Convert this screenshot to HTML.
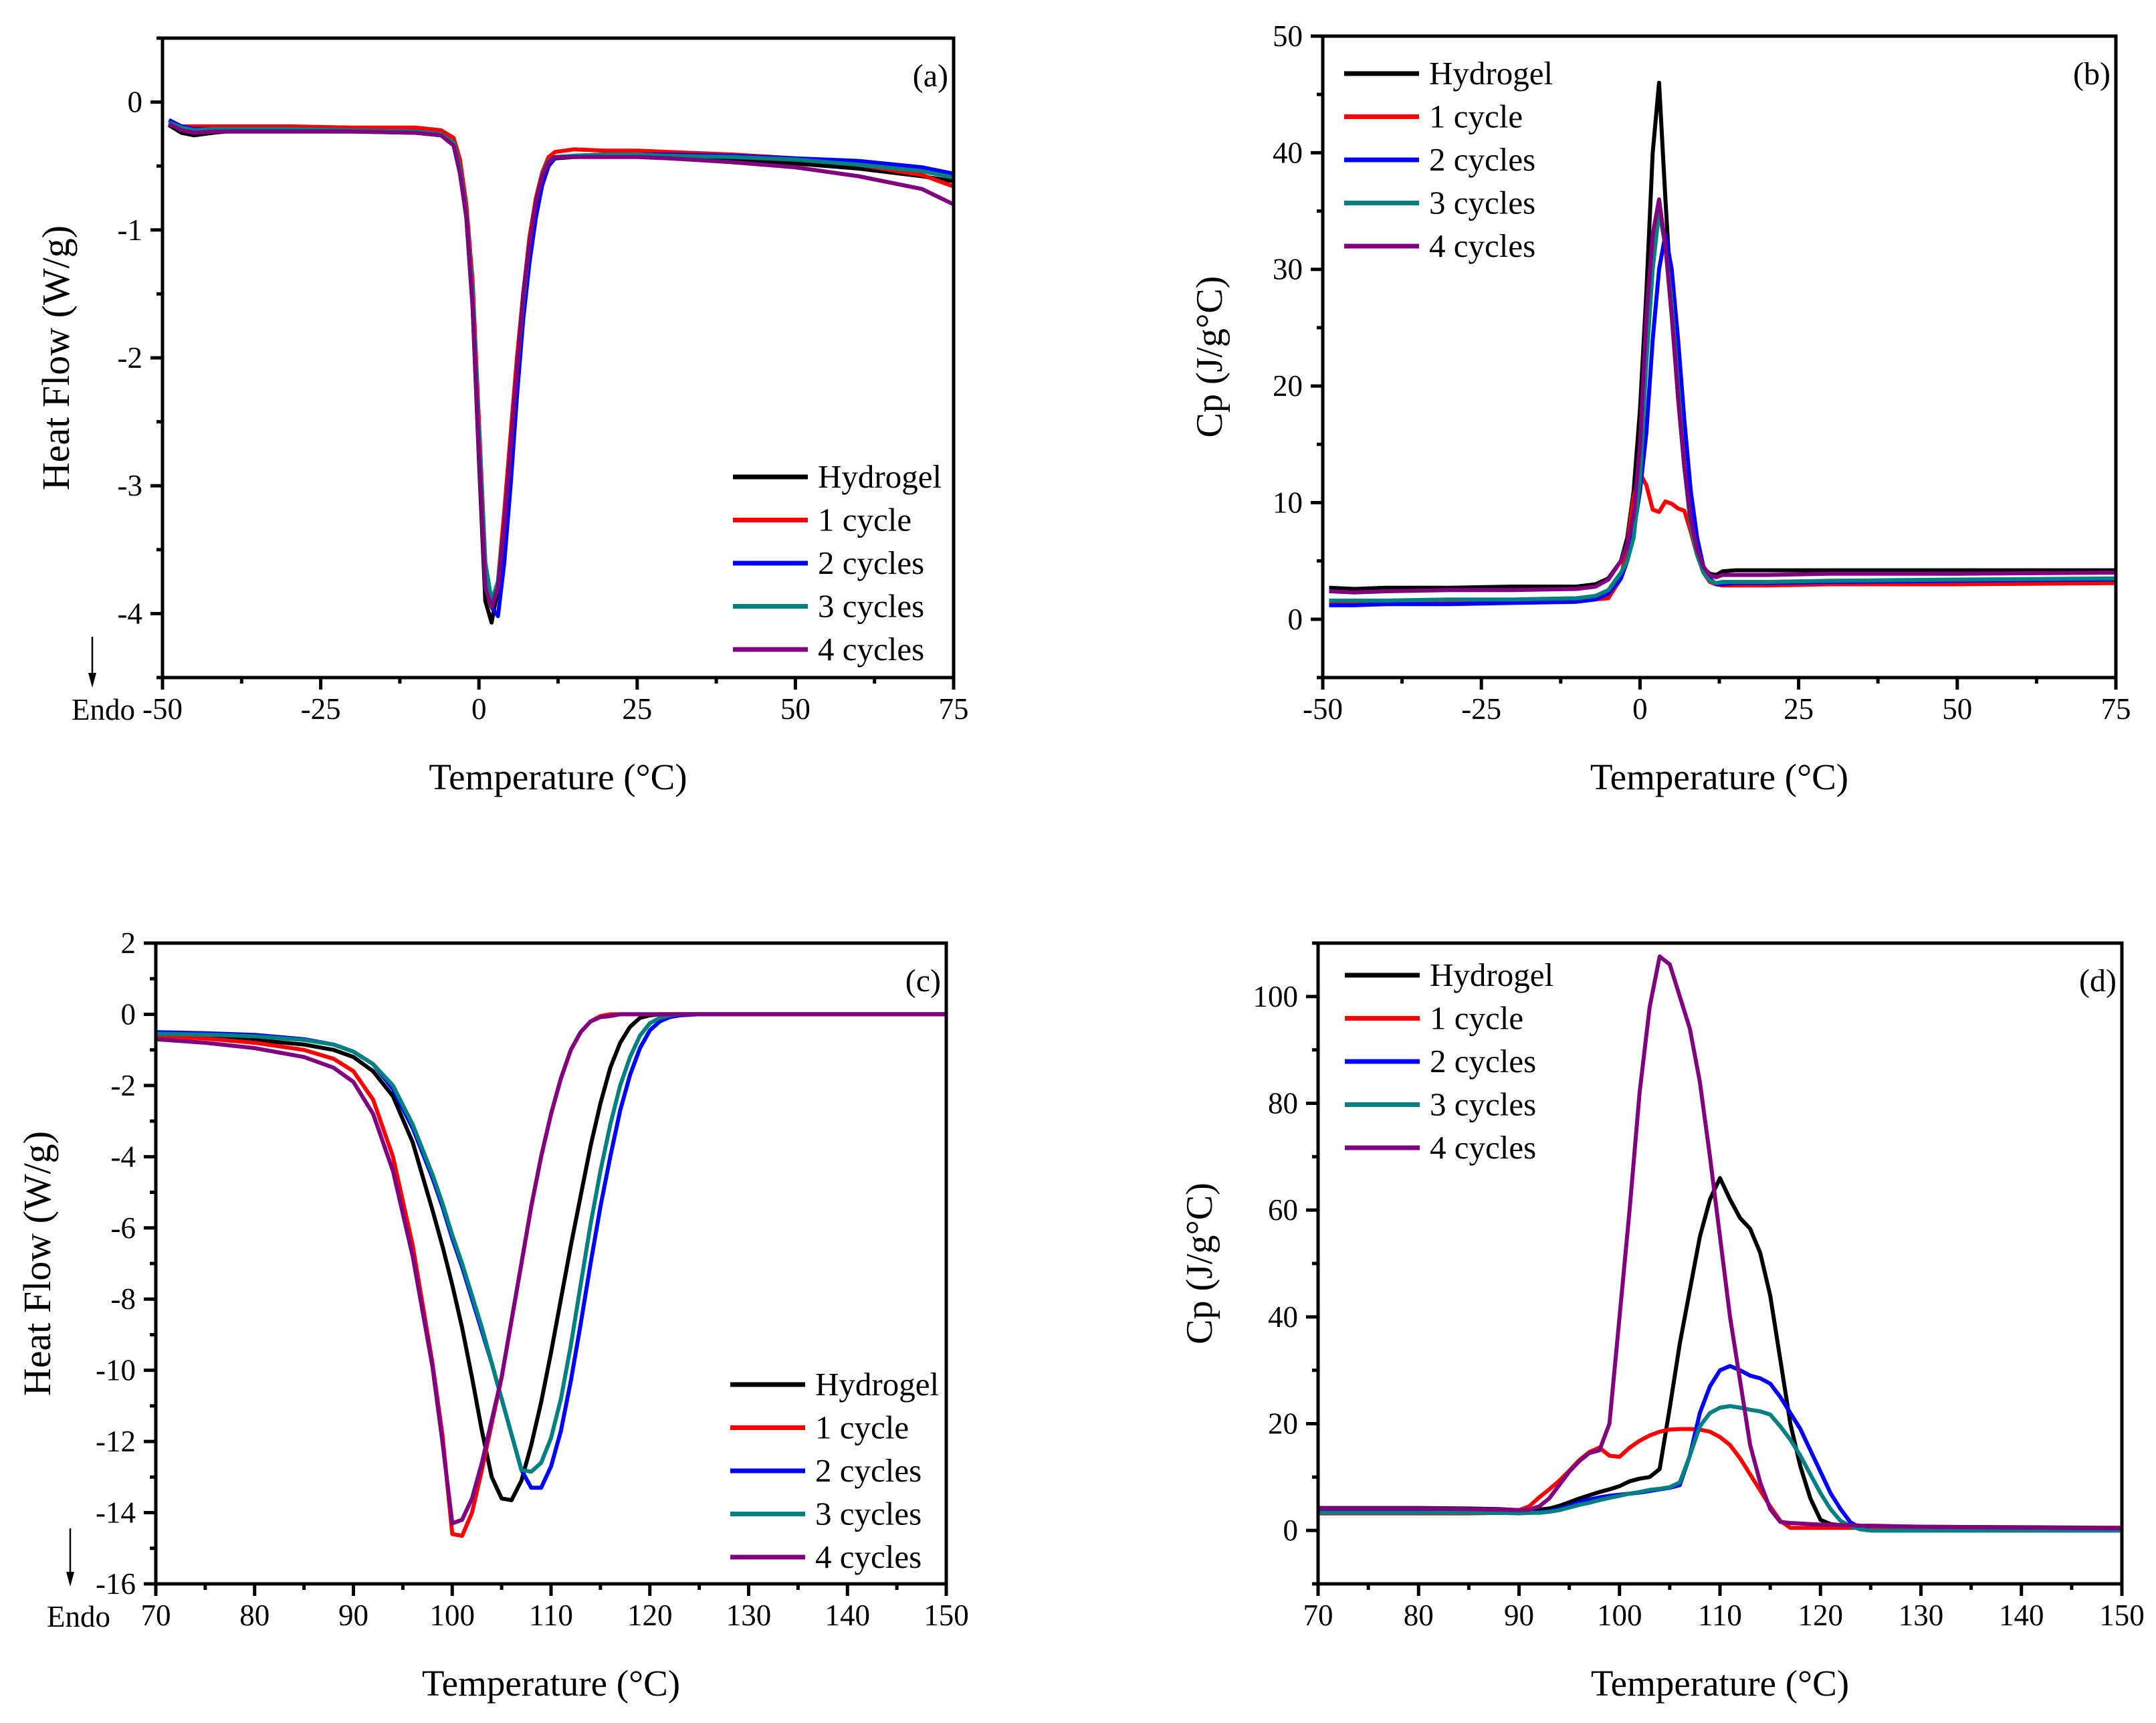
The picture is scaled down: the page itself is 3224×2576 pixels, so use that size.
<!DOCTYPE html>
<html><head><meta charset="utf-8"><style>
html,body{margin:0;padding:0;background:#fff;}
svg{display:block;font-family:"Liberation Serif",serif;}
</style></head><body>
<svg id="fig" width="3224" height="2576" viewBox="0 0 3224 2576" xmlns="http://www.w3.org/2000/svg"></svg>
<script>
const seriesNames = ["Hydrogel","1 cycle","2 cycles","3 cycles","4 cycles"];
const seriesColors = ["#000000","#ff0000","#0000ff","#008080","#800080"];

// Panel (a) heat flow
const aX = [-49,-47,-45,-42,-40,-30,-20,-10,-6,-4,-3,-2,-1,0,1,2,3,4,5,6,7,8,9,10,11,12,15,20,25,30,40,50,60,70,75];
const aHydrogel = [-0.18,-0.24,-0.26,-0.24,-0.23,-0.23,-0.23,-0.24,-0.26,-0.33,-0.55,-0.9,-1.6,-2.8,-3.9,-4.07,-3.8,-3.3,-2.7,-2.1,-1.5,-1.1,-0.78,-0.58,-0.48,-0.44,-0.43,-0.42,-0.42,-0.43,-0.45,-0.48,-0.52,-0.58,-0.62];
const a1 = [-0.17,-0.19,-0.19,-0.19,-0.19,-0.19,-0.2,-0.2,-0.22,-0.28,-0.45,-0.8,-1.4,-2.5,-3.6,-3.95,-3.75,-3.2,-2.6,-2.0,-1.5,-1.05,-0.75,-0.55,-0.43,-0.39,-0.37,-0.38,-0.38,-0.39,-0.41,-0.44,-0.49,-0.57,-0.66];
const a2 = [-0.14,-0.19,-0.21,-0.21,-0.21,-0.21,-0.22,-0.23,-0.25,-0.32,-0.52,-0.88,-1.55,-2.7,-3.7,-3.95,-4.02,-3.6,-3.0,-2.3,-1.7,-1.25,-0.9,-0.65,-0.5,-0.44,-0.42,-0.41,-0.41,-0.41,-0.42,-0.44,-0.46,-0.51,-0.56];
const a3 = [-0.16,-0.2,-0.22,-0.21,-0.21,-0.21,-0.22,-0.23,-0.25,-0.32,-0.52,-0.88,-1.5,-2.6,-3.6,-3.9,-3.75,-3.3,-2.7,-2.1,-1.55,-1.1,-0.78,-0.57,-0.46,-0.43,-0.42,-0.41,-0.41,-0.42,-0.43,-0.45,-0.49,-0.54,-0.59];
const a4 = [-0.17,-0.22,-0.24,-0.23,-0.23,-0.23,-0.23,-0.24,-0.26,-0.34,-0.56,-0.9,-1.6,-2.75,-3.8,-3.95,-3.8,-3.3,-2.7,-2.1,-1.5,-1.1,-0.78,-0.58,-0.47,-0.43,-0.43,-0.43,-0.43,-0.44,-0.47,-0.51,-0.58,-0.68,-0.8];

// Panel (b) Cp
const bX = [-49,-45,-40,-30,-20,-10,-7,-5,-3,-2,-1,0,1,2,3,4,5,6,7,8,9,10,11,12,13,15,20,30,50,75];
const bHydrogel = [2.7,2.6,2.7,2.7,2.8,2.8,3.0,3.5,5,7,11,18,28,40,46,36,27,19,13,8.5,5.8,4.4,3.9,3.8,4.1,4.2,4.2,4.2,4.2,4.2];
const b1 = [1.4,1.4,1.4,1.5,1.5,1.6,1.7,1.8,3.5,6.5,10.5,12.5,11.5,9.4,9.2,10.1,9.9,9.5,9.3,7.5,5.5,4.0,3.2,3.0,2.9,2.9,2.9,3.0,3.0,3.1];
const b2 = [1.2,1.2,1.3,1.3,1.4,1.5,1.7,2.2,3.5,5,7.5,11,16,24,30,33,30,24,17,11,7,4.5,3.5,3.0,3.0,3.1,3.1,3.2,3.3,3.4];
const b3 = [1.6,1.6,1.6,1.7,1.7,1.8,2.0,2.5,4,5,7,12,22,30,35,32,27,20,13,8,5.5,4,3.3,3.1,3.2,3.2,3.2,3.3,3.4,3.5];
const b4 = [2.4,2.3,2.4,2.5,2.5,2.6,2.8,3.4,5,6.5,9,15,26,33,36,32,26,19,13,8.5,6,4.5,3.8,3.6,3.8,3.8,3.8,3.9,3.9,4.0];

// Panel (c) heat flow
const cX = [70,75,80,85,88,90,92,94,96,98,99,100,101,102,103,104,105,106,107,108,109,110,111,112,113,114,115,116,117,118,119,120,121,122,123,125,130,150];
const cHydrogel = [-0.6,-0.65,-0.72,-0.85,-1.0,-1.2,-1.6,-2.3,-3.6,-5.5,-6.5,-7.6,-8.8,-10.2,-11.7,-13,-13.6,-13.65,-13.1,-12.1,-10.9,-9.5,-8,-6.5,-5.1,-3.7,-2.5,-1.5,-0.8,-0.35,-0.1,-0.03,0,0,0,0,0,0];
const c1 = [-0.6,-0.68,-0.8,-1.0,-1.25,-1.6,-2.4,-4.0,-6.5,-9.8,-11.8,-14.6,-14.65,-14.0,-12.8,-11.5,-10.2,-8.6,-7.0,-5.4,-4.0,-2.8,-1.8,-1.0,-0.5,-0.2,-0.05,0,0,0,0,0,0,0,0,0,0,0];
const c2 = [-0.5,-0.53,-0.58,-0.7,-0.85,-1.05,-1.4,-2.1,-3.2,-4.6,-5.4,-6.3,-7.1,-8.0,-8.9,-9.8,-10.8,-11.8,-12.8,-13.3,-13.3,-12.7,-11.7,-10.3,-8.7,-7.0,-5.4,-4.0,-2.7,-1.7,-0.95,-0.45,-0.2,-0.08,-0.03,0,0,0];
const c3 = [-0.55,-0.57,-0.62,-0.72,-0.85,-1.05,-1.4,-2.0,-3.1,-4.5,-5.3,-6.2,-7.0,-7.9,-8.8,-9.8,-10.8,-11.8,-12.8,-12.85,-12.6,-11.9,-10.8,-9.3,-7.6,-5.9,-4.4,-3.1,-2.0,-1.2,-0.6,-0.25,-0.1,-0.03,0,0,0,0];
const c4 = [-0.7,-0.8,-0.95,-1.2,-1.5,-1.9,-2.8,-4.4,-6.8,-9.9,-12,-14.3,-14.2,-13.6,-12.6,-11.4,-10.2,-8.6,-7.0,-5.4,-4.0,-2.8,-1.8,-1.0,-0.5,-0.2,-0.08,-0.05,0,0,0,0,0,0,0,0,0,0];

// Panel (d) Cp
const dX = [70,80,85,88,90,91,92,93,94,95,96,97,98,99,100,101,102,103,104,105,106,107,108,109,110,111,112,113,114,115,116,117,118,119,120,121,122,123,124,125,130,150];
const dHydrogel = [4.2,4.2,4.1,4.0,3.8,3.8,3.9,4.1,4.6,5.3,6,6.6,7.2,7.7,8.3,9.2,9.7,10,11.5,23,35,45,55,62,66,62,58.5,56.5,52,44,32,20,12,6,2,1.2,1,1,0.9,0.8,0.7,0.5];
const d1 = [3.2,3.2,3.2,3.3,3.8,4.5,6.2,7.7,9.3,11.2,13.2,14.7,15.5,14,13.8,15.5,16.8,17.8,18.5,18.9,19,19,18.9,18.5,17.5,16,13.5,10.5,7.5,4.5,1.8,0.5,0.5,0.5,0.5,0.5,0.5,0.5,0.5,0.5,0.5,0.5];
const d2 = [3.5,3.5,3.4,3.3,3.3,3.3,3.4,3.6,4,4.6,5.3,5.8,6.2,6.5,6.7,6.9,7.1,7.4,7.7,8,8.5,14,22,27,30,30.8,30,29,28.5,27.5,25,22,19,15,11,7,4,1.5,0.5,0,0,0];
const d3 = [3.3,3.3,3.3,3.3,3.2,3.3,3.3,3.5,3.8,4.3,4.8,5.2,5.7,6.1,6.5,6.9,7.2,7.6,7.8,8.1,9,14,19.5,22,23,23.3,23,22.6,22.3,21.7,19.5,17,14,10.5,7,4,1.8,0.8,0.2,0,0,0];
const d4 = [4.1,4.1,4.0,3.9,3.8,3.9,4.5,6.0,8.5,11,13,14.5,15,20,40,60,82,98,107.5,106,100,94,84,70,55,40,28,16,9,4,1.6,1.4,1.3,1.2,1.1,1.1,1.0,1.0,0.9,0.9,0.7,0.4];

// tick label arrays
const abXTicks = [-50,-25,0,25,50,75];
const aYTicks = [0,-1,-2,-3,-4];
const bYTicks = [0,10,20,30,40,50];
const cdXTicks = [70,80,90,100,110,120,130,140,150];
const cYTicks = [2,0,-2,-4,-6,-8,-10,-12,-14,-16];
const dYTicks = [0,20,40,60,80,100];

const NS = "http://www.w3.org/2000/svg";
const svg = document.getElementById("fig");
function el(tag, attrs, parent){
  const e = document.createElementNS(NS, tag);
  for (const k in attrs) e.setAttribute(k, attrs[k]);
  (parent||svg).appendChild(e);
  return e;
}

function panel(cfg){
  const g = el("g", {});
  
  
  const {L,R,T,B,x0,x1,y0,y1} = cfg;
  const sx = v => L + (v - x0) / (x1 - x0) * (R - L);
  const sy = v => B - (v - y0) / (y1 - y0) * (B - T);
  const cid = "clip-" + cfg.id;
  const cp = el("clipPath", {id: cid}, g);
  el("rect", {x:L, y:T, width:R-L, height:B-T}, cp);
  const sg = el("g", {"clip-path": "url(#" + cid + ")"}, g);
  cfg.series.forEach((ys, i) => {
    let d = "";
    ys.forEach((v, j) => { d += (j ? "L" : "M") + sx(cfg.xs[j]).toFixed(1) + "," + sy(v).toFixed(1); });
    const p = el("path", {d: d, fill: "none", stroke: seriesColors[i], "stroke-width": 6, "stroke-linejoin": "round"}, sg);
    
    
  });
  const fr = el("rect", {x:L, y:T, width:R-L, height:B-T, fill:"none", stroke:"#000", "stroke-width":5}, g);
  
  
  for (let v = x0; v <= x1 + 1e-9; v += cfg.xMinor) {
    const major = Math.abs(((v - x0) / cfg.xMajor) - Math.round((v - x0) / cfg.xMajor)) < 1e-6;
    el("line", {x1:sx(v), x2:sx(v), y1:B, y2:B + (major ? 18 : 9), stroke:"#000", "stroke-width":5}, g);
  }
  cfg.xTicks.forEach(v => {
    const t = el("text", {x:sx(v), y:B + 62, "font-size":45, "text-anchor":"middle"}, g);
    t.textContent = String(v);
    
    
  });
  for (let v = y0; v <= y1 + 1e-9; v += cfg.yMinor) {
    const major = Math.abs(((v - cfg.yRef) / cfg.yMajor) - Math.round((v - cfg.yRef) / cfg.yMajor)) < 1e-6;
    el("line", {x1:L, x2:L - (major ? 18 : 9), y1:sy(v), y2:sy(v), stroke:"#000", "stroke-width":5}, g);
  }
  cfg.yTicks.forEach(v => {
    const t = el("text", {x:L - 30, y:sy(v) + 15, "font-size":45, "text-anchor":"end"}, g);
    t.textContent = String(v);
    
    
  });
  const xt = el("text", {x:(L+R)/2, y:B + 167, "font-size":55, "text-anchor":"middle"}, g);
  xt.textContent = "Temperature (°C)";
  
  
  const yt = el("text", {x:0, y:0, "font-size":cfg.ytSize, "text-anchor":"middle", transform:"translate(" + cfg.ytX + "," + ((T+B)/2) + ") rotate(-90)"}, g);
  yt.textContent = cfg.yTitle;
  
  
  const pl = el("text", {x:R - 8, y:T + 72, "font-size":48, "text-anchor":"end"}, g);
  pl.textContent = "(" + cfg.id + ")";
  
  
  seriesNames.forEach((n, i) => {
    const y = cfg.legY + i * 64.5;
    const lg = el("g", {}, g);
    
    
    el("line", {x1:cfg.legX, x2:cfg.legX + 112, y1:y, y2:y, stroke:seriesColors[i], "stroke-width":7}, lg);
    const t = el("text", {x:cfg.legX + 127, y:y + 16, "font-size":49}, lg);
    t.textContent = n;
  });
  if (cfg.endo) {
    const e = cfg.endo;
    const eg = el("g", {}, g);
    
    
    el("line", {x1:e.ax, x2:e.ax, y1:e.ay1, y2:e.ay2 - 18, stroke:"#000", "stroke-width":2.5}, eg);
    el("path", {d:"M" + (e.ax-6) + "," + (e.ay2-22) + "L" + (e.ax+6) + "," + (e.ay2-22) + "L" + e.ax + "," + e.ay2 + "Z", fill:"#000"}, eg);
    const t = el("text", {x:e.tx, y:e.ty, "font-size":45}, eg);
    t.textContent = "Endo";
  }
}

panel({id:"a", L:243, R:1426, T:57, B:1013, x0:-50, x1:75, y0:-4.5, y1:0.5, xMajor:25, xMinor:12.5, yMajor:1, yMinor:0.5, yRef:0,
  xs:aX, series:[aHydrogel,a1,a2,a3,a4], xTicks:abXTicks, yTicks:aYTicks, yTitle:"Heat Flow (W/g)", ytSize:58, ytX:103,
  legX:1096, legY:713, endo:{ax:138, ay1:952, ay2:1028, tx:107, ty:1076}});
panel({id:"b", L:1978, R:3164, T:54, B:1013, x0:-50, x1:75, y0:-5, y1:50, xMajor:25, xMinor:12.5, yMajor:10, yMinor:5, yRef:0,
  xs:bX, series:[bHydrogel,b1,b2,b3,b4], xTicks:abXTicks, yTicks:bYTicks, yTitle:"Cp (J/g°C)", ytSize:56, ytX:1827,
  legX:2010, legY:110});
panel({id:"c", L:233, R:1415, T:1410, B:2368, x0:70, x1:150, y0:-16, y1:2, xMajor:10, xMinor:5, yMajor:2, yMinor:1, yRef:0,
  xs:cX, series:[cHydrogel,c1,c2,c3,c4], xTicks:cdXTicks, yTicks:cYTicks, yTitle:"Heat Flow (W/g)", ytSize:58, ytX:75,
  legX:1092, legY:2070, endo:{ax:105, ay1:2285, ay2:2372, tx:70, ty:2432}});
panel({id:"d", L:1971, R:3173, T:1410, B:2368, x0:70, x1:150, y0:-10, y1:110, xMajor:10, xMinor:5, yMajor:20, yMinor:10, yRef:0,
  xs:dX, series:[dHydrogel,d1,d2,d3,d4], xTicks:cdXTicks, yTicks:dYTicks, yTitle:"Cp (J/g°C)", ytSize:56, ytX:1812,
  legX:2011, legY:1458});
</script>
</body></html>
